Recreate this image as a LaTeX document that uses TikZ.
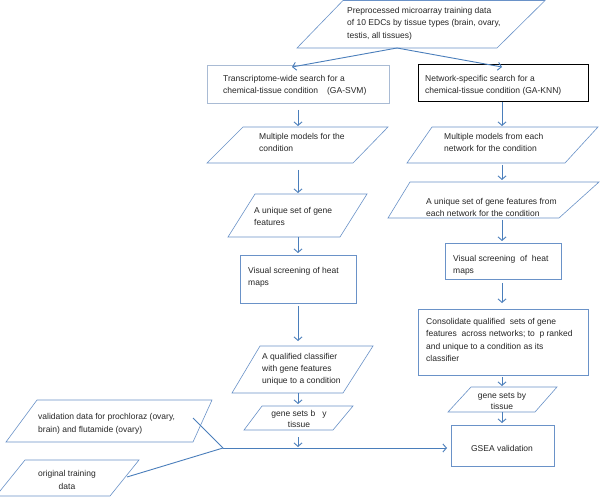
\documentclass[tikz,border=0pt]{standalone}
\usepackage{fontspec}
\setmainfont{Liberation Sans}
\usetikzlibrary{arrows.meta}
\definecolor{arrblue}{HTML}{4A7EBB}
\definecolor{shapeblue}{HTML}{6A92C8}
\definecolor{paleblue}{HTML}{A9BBD4}
\definecolor{txtc}{HTML}{262626}
\begin{document}
\begin{tikzpicture}[x=1pt,y=-1pt,
  txt/.style={font=\fontsize{8.5}{12.5}\selectfont, text=txtc, inner sep=0pt, align=left, anchor=north west},
  ctxt/.style={font=\fontsize{8.5}{11.5}\selectfont, text=txtc, inner sep=0pt, align=center, anchor=north},
  pg/.style={draw=shapeblue, line width=0.6pt},
  bx/.style={draw=shapeblue, line width=0.7pt},
  arr/.style={draw=arrblue, line width=0.9pt, -{Straight Barb[length=3.5pt,width=8pt]}},
  ln/.style={draw=arrblue, line width=0.9pt}]
\useasboundingbox (0,0) rectangle (600,497);
\clip (0,0) rectangle (600,497);
\fill[white] (0,0) rectangle (600,497);

% ---------- shapes ----------
\draw[pg] (343,0.5) -- (545,0.5) -- (497,48) -- (297,48) -- cycle;
\draw[draw=paleblue, line width=0.7pt] (207,65) rectangle (389,103);
\draw[black, line width=1pt] (418,65) rectangle (588,102);
\draw[pg] (243,127) -- (388,127) -- (353,163) -- (207,163) -- cycle;
\draw[pg] (432,127) -- (598,127) -- (565,163) -- (407,163) -- cycle;
\draw[pg] (410,182) -- (599,182) -- (559,218) -- (388,218) -- cycle;
\draw[pg] (255,194) -- (367,194) -- (340,237) -- (228,237) -- cycle;
\draw[bx] (240,255) rectangle (356,303);
\draw[bx] (445,243) rectangle (561,279);
\draw[bx] (418,309) rectangle (588,375);
\draw[pg] (260,346) -- (373,346) -- (343,393) -- (232,393) -- cycle;
\draw[pg] (262,406) -- (353,406) -- (333,430) -- (244,430) -- cycle;
\draw[pg] (471,387) -- (557,387) -- (535,412) -- (448,412) -- cycle;
\draw[bx] (451,425) rectangle (554,466);
\draw[pg] (37,400) -- (212,400) -- (193,442) -- (6,442) -- cycle;
\draw[pg] (25,460) -- (139,460) -- (110,496) -- (-4,496) -- cycle;

% ---------- texts ----------
\node[txt] (tTop) at (347,7) {Preprocessed microarray training data\\of 10 EDCs by tissue types (brain, ovary,\\testis, all tissues)};
\node[txt] (tL1) at (223,75) {Transcriptome-wide search for a\\chemical-tissue condition\hspace{9pt}(GA-SVM)};
\node[txt] (tR1) at (425,75) {Network-specific search for a\\chemical-tissue condition (GA-KNN)};
\node[txt] (tL2) at (259,133) {Multiple models for the\\condition};
\node[txt] (tR2) at (444,133) {Multiple models from each\\network for the condition};
\node[txt] (tR3) at (426,198) {A unique set of gene features from\\each network for the condition};
\node[txt] (tL3) at (254,207) {A unique set of gene\\features};
\node[txt] (tL4) at (248,267) {Visual screening of heat\\maps};
\node[txt] (tR4) at (453,255) {Visual screening\ \ of\ \ heat\\maps};
\node[txt] (tR5) at (426,318) {Consolidate qualified\ \ sets of gene\\features\ \ across networks; to\ \ p ranked\\and unique to a condition as its\\classifier};
\node[txt, font=\fontsize{8.5}{12}\selectfont] (tL5) at (262,353) {A qualified classifier\\with gene features\\unique to a condition};
\node[ctxt] (tL6) at (299,410) {gene sets b\ \ \ y\\tissue};
\node[ctxt] (tR6) at (502,392) {gene sets by\\tissue};
\node[ctxt, anchor=center] (tG) at (502,448) {GSEA validation};
\node[txt, font=\fontsize{8.5}{13.5}\selectfont] (tV) at (38,413) {validation data for prochloraz (ovary,\\brain) and flutamide (ovary)};
\node[ctxt, font=\fontsize{8.5}{13}\selectfont] (tO) at (67,470) {original training\\data};

% ---------- connector points ----------
\coordinate (topS) at (397,48);
\coordinate (L1n) at (292,67);
\coordinate (R1n) at (502,67);
\coordinate (L1s) at (298,110);
\coordinate (L2n) at (298,126);
\coordinate (L2s) at (298,170);
\coordinate (L3n) at (298,193);
\coordinate (L3s) at (298,237);
\coordinate (L4n) at (298,253);
\coordinate (L4s) at (298,306);
\coordinate (L5n) at (298,341);
\coordinate (L5s) at (298,393);
\coordinate (L6n) at (298,404);
\coordinate (L6s) at (298,437);
\coordinate (Lbus) at (298,447);
\coordinate (R1s) at (502,102);
\coordinate (R2n) at (502,126);
\coordinate (R2s) at (502,165);
\coordinate (R3n) at (502,180);
\coordinate (R3s) at (502,220);
\coordinate (R4n) at (502,241);
\coordinate (R4s) at (502,283);
\coordinate (R5n) at (502,303);
\coordinate (R5s) at (502,377);
\coordinate (R6n) at (502,386);
\coordinate (R6s) at (502,412);
\coordinate (Gn) at (502,423);
\coordinate (Gw) at (447,448);
\coordinate (Ve) at (193,418);
\coordinate (Oe) at (127,477);
\coordinate (J) at (223,448);

% ---------- connectors ----------
\draw[arr] (topS) -- (L1n);
\draw[arr] (topS) -- (R1n);
\draw[arr] (L1s) -- (L2n);
\draw[arr] (L2s) -- (L3n);
\draw[arr] (L3s) -- (L4n);
\draw[arr] (L4s) -- (L5n);
\draw[arr] (L5s) -- (L6n);
\draw[arr] (L6s) -- (Lbus);
\draw[arr] (R1s) -- (R2n);
\draw[arr] (R2s) -- (R3n);
\draw[arr] (R3s) -- (R4n);
\draw[arr] (R4s) -- (R5n);
\draw[arr] (R5s) -- (R6n);
\draw[arr] (R6s) -- (Gn);
\draw[ln] (Ve) -- (J);
\draw[ln] (Oe) -- (J);
\draw[arr] (J) -- (Gw);
\end{tikzpicture}
\end{document}
